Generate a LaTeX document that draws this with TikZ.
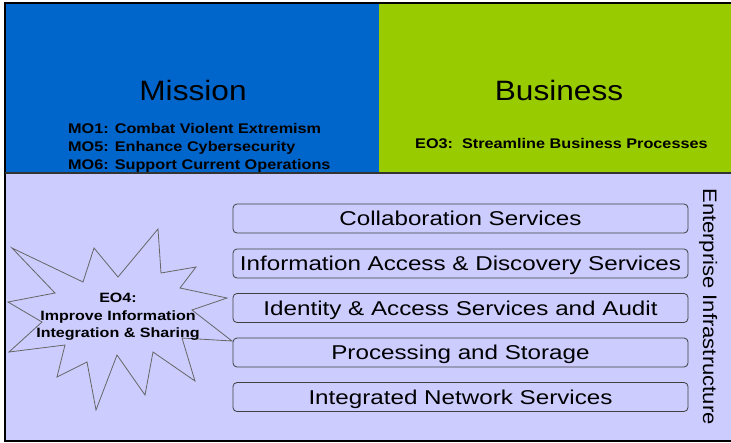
\documentclass[tikz,border=0pt]{standalone}
\usepackage{fontspec}
\setmainfont{Liberation Sans}
\usepackage{graphicx}
\definecolor{missionblue}{HTML}{0066CC}
\definecolor{busgreen}{HTML}{99CC00}
\definecolor{infrabg}{HTML}{CCCCFF}
\newcommand{\wx}[2]{\scalebox{#1}[1]{#2}}
\tikzset{
  svcbox/.style={draw=black!75, line width=0.8pt, rounded corners=4pt,
    minimum width=455pt, minimum height=29pt, inner sep=0pt,
    text height=14pt, text depth=0pt, font=\fontsize{20}{24}\selectfont},
  titletext/.style={inner sep=0pt, font=\fontsize{28}{32}\selectfont},
  goaltext/.style={inner sep=0pt, anchor=base west, font=\fontsize{14}{17}\selectfont\bfseries},
  startext/.style={inner sep=0pt, align=center, font=\fontsize{13.5}{17.5}\selectfont\bfseries},
  starline/.style={draw=black!60, line width=0.8pt, line join=miter},
}
\begin{document}
\begin{tikzpicture}[x=1pt,y=-1pt]
\useasboundingbox (0,0) rectangle (731,442);
% panels
\fill[infrabg] (5,173) rectangle (731,441);
\fill[missionblue] (5,3) rectangle (379,173);
\fill[busgreen] (379,3) rectangle (731,173);
\draw[line width=1.2pt] (731,3) -- (5,3) -- (5,441) -- (731,441);
\draw[line width=1.2pt, black!80] (5,173) -- (731,173);
% Mission
\node[titletext] (mission) at (193,90) {\wx{1.13}{Mission}};
\node[goaltext] (mo1) at (68,133) {\wx{1.16}{MO1: Combat Violent Extremism}};
\node[goaltext] (mo5) at (68,151) {\wx{1.16}{MO5: Enhance Cybersecurity}};
\node[goaltext] (mo6) at (68,169) {\wx{1.16}{MO6: Support Current Operations}};
% Business
\node[titletext] (business) at (559,90) {\wx{1.13}{Business}};
\node[goaltext] (eo3) at (415,148) {\wx{1.16}{EO3:\ \ Streamline Business Processes}};
% Services
\node[svcbox] (collab) at (460.5,218.5) {\wx{1.21}{Collaboration Services}};
\node[svcbox] (info) at (460.5,263.5) {\wx{1.21}{Information Access \& Discovery Services}};
\node[svcbox] (ident) at (460.5,308) {\wx{1.21}{Identity \& Access Services and Audit}};
\node[svcbox] (proc) at (460.5,352.5) {\wx{1.21}{Processing and Storage}};
\node[svcbox] (net) at (460.5,397) {\wx{1.21}{Integrated Network Services}};
% Enterprise Infrastructure
\node[inner sep=0pt, rotate=-90, text height=14pt, text depth=0pt,
  font=\fontsize{19.5}{22}\selectfont] (ent) at (710,306.5)
  {\wx{1.13}{Enterprise Infrastructure}};
% Star
\draw[starline] (12,248) -- (83,282) -- (94,248) -- (118,277) -- (158,229)
  -- (161,273) -- (196,267) -- (180,288) -- (227,298) -- (192,310)
  -- (232,341) -- (182,338) -- (195,381) -- (153,352) -- (145,395)
  -- (117,355) -- (96,410) -- (87,362) -- (57,377) -- (65,345)
  -- (9,352) -- (42,322) -- (8,302) -- (55,293) -- cycle;
\node[startext, anchor=north] (eo4) at (118,293)
  {\wx{1.19}{EO4:}\\\wx{1.19}{Improve Information}\\\wx{1.19}{Integration \& Sharing}};
\end{tikzpicture}
\end{document}
